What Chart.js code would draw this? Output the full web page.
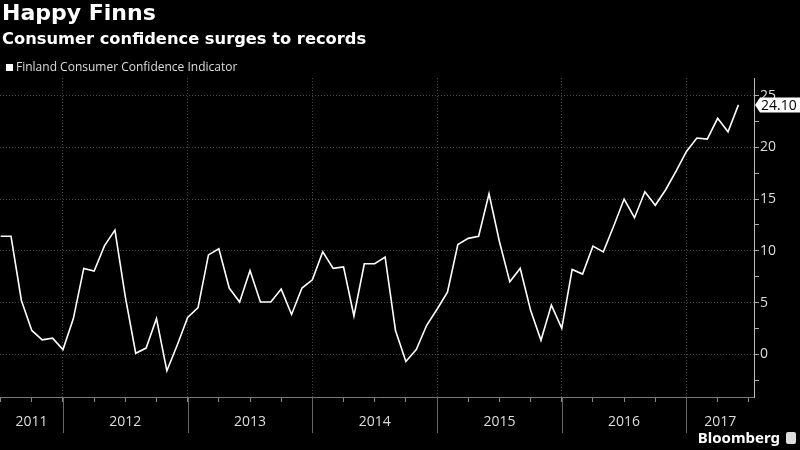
<!DOCTYPE html>
<html>
<head>
<meta charset="utf-8">
<script src="https://cdn.jsdelivr.net/npm/chart.js@4"></script>
<style>
  html, body { margin: 0; padding: 0; background: #000; }
  #wrap { position: relative; width: 800px; height: 450px; overflow: hidden; font-family: 'Open Sans', sans-serif; }
  #myChart { position: absolute; left: 0; top: 0; }
  .title { position: absolute; left: 2px; top: 0px; color: #fff; font-family: 'DejaVu Sans', sans-serif; font-weight: 700; font-size: 22px; }
  .subtitle { position: absolute; left: 2px; top: 29px; color: #fff; font-family: 'DejaVu Sans', sans-serif; font-weight: 700; font-size: 16.3px; }
  .legend { position: absolute; left: 6px; top: 58px; color: #ddd; font-size: 12px; }
  .legend i { display: inline-block; width: 7px; height: 7px; background: #fff; margin-right: 3px; vertical-align: 0px; }
  .brand { position: absolute; right: 4px; top: 427px; color: #fff; font-family: 'Noto Sans', sans-serif; font-weight: 700; font-size: 15px; }
  .brand i { display: inline-block; width: 10px; height: 12px; background: #ddd; border-radius: 2px; margin-left: 6px; vertical-align: -1px; }
</style>
</head>
<body>
<div id="wrap">
  <canvas id="myChart" width="800" height="450"></canvas>
  <div class="title">Happy Finns</div>
  <div class="subtitle">Consumer confidence surges to records</div>
  <div class="legend"><i></i>Finland Consumer Confidence Indicator</div>
  <div class="brand">Bloomberg<i></i></div>
</div>
<script>
// monthly readings, Jul 2011 - Jun 2017
const months = [
  '2011-07','2011-08','2011-09','2011-10','2011-11','2011-12',
  '2012-01','2012-02','2012-03','2012-04','2012-05','2012-06','2012-07','2012-08','2012-09','2012-10','2012-11','2012-12',
  '2013-01','2013-02','2013-03','2013-04','2013-05','2013-06','2013-07','2013-08','2013-09','2013-10','2013-11','2013-12',
  '2014-01','2014-02','2014-03','2014-04','2014-05','2014-06','2014-07','2014-08','2014-09','2014-10','2014-11','2014-12',
  '2015-01','2015-02','2015-03','2015-04','2015-05','2015-06','2015-07','2015-08','2015-09','2015-10','2015-11','2015-12',
  '2016-01','2016-02','2016-03','2016-04','2016-05','2016-06','2016-07','2016-08','2016-09','2016-10','2016-11','2016-12',
  '2017-01','2017-02','2017-03','2017-04','2017-05','2017-06'
];
const confidence = [
  11.4, 11.4, 5.2, 2.3, 1.4, 1.55,
  0.45, 3.45, 8.3, 8.05, 10.5, 12.0, 5.55, 0.1, 0.6, 3.45, -1.6, 0.9,
  3.55, 4.5, 9.6, 10.2, 6.4, 5.05, 8.1, 5.05, 5.05, 6.3, 3.85, 6.4,
  7.2, 9.9, 8.3, 8.45, 3.7, 8.75, 8.75, 9.4, 2.3, -0.7, 0.45, 2.8,
  4.35, 6.0, 10.6, 11.2, 11.4, 15.5, 10.9, 7.0, 8.3, 4.25, 1.35, 4.75,
  2.5, 8.2, 7.75, 10.45, 9.9, 12.4, 15.0, 13.2, 15.7, 14.4, 15.9, 17.7,
  19.6, 20.9, 20.8, 22.8, 21.5, 24.1
];
const yearLabels = ['2011', '2012', '2013', '2014', '2015', '2016', '2017'];
const lastLabel = '24.10';

const baseYear = 2011;
const toIndex = (s) => (parseInt(s.substring(0, 4)) - baseYear) * 12 + parseInt(s.substring(5, 7)) - 1;
const points = months.map((m, i) => ({ x: toIndex(m), y: confidence[i] }));

const gridColor = 'rgba(255,255,255,0.28)';

const yearAxis = {
  id: 'yearAxis',
  afterDraw: (chart) => {
    const { ctx, chartArea: { bottom }, scales: { x } } = chart;
    ctx.save();
    ctx.strokeStyle = '#666';
    ctx.lineWidth = 1;
    ctx.fillStyle = '#ddd';
    ctx.font = '14px "Open Sans"';
    ctx.textAlign = 'center';
    ctx.textBaseline = 'middle';
    yearLabels.forEach((label) => {
      const start = (parseInt(label) - baseYear) * 12;
      const end = start + 12;
      if (start > x.min && start < x.max) {
        const px = Math.round(x.getPixelForValue(start)) + 0.5;
        ctx.beginPath();
        ctx.moveTo(px, bottom);
        ctx.lineTo(px, 433);
        ctx.stroke();
      }
      const a = x.getPixelForValue(Math.max(start, x.min));
      const b = x.getPixelForValue(Math.min(end, x.max));
      ctx.fillText(label, (a + b) / 2, 422);
    });
    ctx.restore();
  }
};

const lastValueTag = {
  id: 'lastValueTag',
  afterDraw: (chart) => {
    const { ctx, chartArea: { right }, scales: { y } } = chart;
    const py = y.getPixelForValue(confidence[confidence.length - 1]);
    const h = 15;
    ctx.save();
    ctx.fillStyle = '#fff';
    ctx.beginPath();
    ctx.moveTo(right + 1, py);
    ctx.lineTo(right + 6, py - h / 2);
    ctx.lineTo(802, py - h / 2);
    ctx.lineTo(802, py + h / 2);
    ctx.lineTo(right + 6, py + h / 2);
    ctx.closePath();
    ctx.fill();
    ctx.fillStyle = '#000';
    ctx.font = '14px "Open Sans"';
    ctx.textBaseline = 'middle';
    ctx.fillText(lastLabel, right + 7, py + 1);
    ctx.restore();
  }
};

const config = {
  type: 'line',
  data: {
    datasets: [{
      label: 'Finland Consumer Confidence Indicator',
      data: points,
      borderColor: '#fff',
      borderWidth: 1.6,
      pointRadius: 0,
      tension: 0,
      fill: false
    }]
  },
  options: {
    responsive: false,
    animation: false,
    layout: { padding: { top: 78, left: 0, right: 0, bottom: 0 } },
    plugins: { legend: { display: false }, tooltip: { enabled: false } },
    scales: {
      x: {
        type: 'linear',
        min: 5.94,
        max: 78.5,
        afterBuildTicks: (axis) => {
          const t = [];
          for (let v = 6; v <= 78; v += 3) t.push({ value: v });
          axis.ticks = t;
        },
        afterFit: (axis) => { axis.height = 53; },
        ticks: { display: false },
        grid: {
          color: (c) => (c.tick && c.tick.value % 12 === 0) ? gridColor : 'transparent',
          tickColor: '#888',
          tickLength: 5,
          lineWidth: 1
        },
        border: { color: '#777', width: 1, dash: [1, 2] }
      },
      y: {
        position: 'right',
        min: -4.13,
        max: 26.7,
        afterBuildTicks: (axis) => {
          const t = [];
          for (let v = -2.5; v <= 25; v += 2.5) t.push({ value: v });
          axis.ticks = t;
        },
        afterFit: (axis) => { axis.width = 46; },
        ticks: {
          color: '#ddd',
          font: { size: 14 },
          padding: 1,
          callback: (v) => (v % 5 === 0 ? String(v) : '')
        },
        grid: {
          color: (c) => (c.tick && c.tick.value % 5 === 0) ? gridColor : 'transparent',
          tickColor: '#aaa',
          tickLength: 5,
          lineWidth: 1
        },
        border: { color: '#bbb', width: 1, dash: [1, 2] }
      }
    }
  },
  plugins: [yearAxis, lastValueTag]
};

Chart.defaults.font.family = "'Open Sans', sans-serif";
new Chart(document.getElementById('myChart').getContext('2d'), config);
</script>
</body>
</html>
